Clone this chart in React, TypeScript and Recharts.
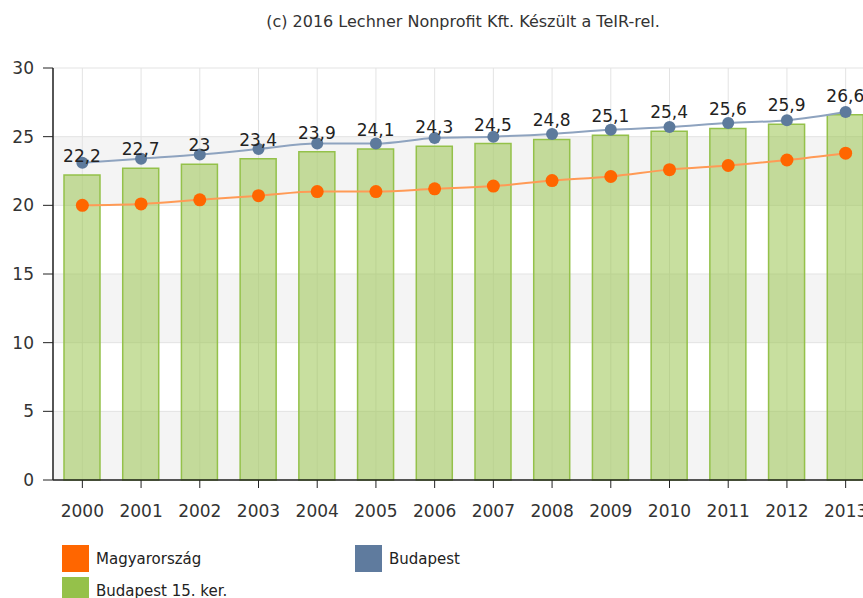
import { BarChart, Bar, Line, XAxis, YAxis, CartesianGrid, LabelList, ComposedChart } from "recharts";

// years on the x axis
const years = ["2000", "2001", "2002", "2003", "2004", "2005", "2006", "2007", "2008", "2009", "2010", "2011", "2012", "2013"];
// Magyarország (orange line)
const magyarorszag = [20.0, 20.1, 20.4, 20.7, 21.0, 21.0, 21.2, 21.4, 21.8, 22.1, 22.6, 22.9, 23.3, 23.8];
// Budapest (blue-grey line)
const budapest = [23.1, 23.4, 23.7, 24.1, 24.5, 24.5, 24.9, 25.0, 25.2, 25.5, 25.7, 26.0, 26.2, 26.8];
// Budapest 15. ker. (green bars)
const ker15 = [22.2, 22.7, 23, 23.4, 23.9, 24.1, 24.3, 24.5, 24.8, 25.1, 25.4, 25.6, 25.9, 26.6];
const yTicks = [0, 5, 10, 15, 20, 25, 30];

const legendItems = [
  { name: "Magyarország", color: "#ff6600" },
  { name: "Budapest", color: "#5f7b9e" },
  { name: "Budapest 15. ker.", color: "#95c14a" },
];

const chartData = years.map((year, i) => ({
  year,
  magyarorszag: magyarorszag[i],
  budapest: budapest[i],
  ker15: ker15[i],
}));

export default function App() {
  return (
    <div
      style={{
        position: "absolute",
        left: 0,
        top: 0,
        width: 863,
        height: 598,
        overflow: "hidden",
        background: "#fff",
        fontFamily: "'DejaVu Sans', Verdana, sans-serif",
      }}
    >
      {/* copyright line */}
      <div
        style={{
          position: "absolute",
          left: 0,
          top: 14,
          width: 926,
          textAlign: "center",
          fontSize: 16,
          lineHeight: "16px",
          color: "#333",
        }}
      >
        (c) 2016 Lechner Nonprofit Kft. Készült a TeIR-rel.
      </div>

      <div style={{ position: "absolute", left: 0, top: 0 }}>
        <ComposedChart
          width={930}
          height={598}
          data={chartData}
          margin={{ top: 68, right: 55, bottom: 78, left: 0 }}
        >
          <CartesianGrid stroke="#e3e3e3" horizontalFill={["#ffffff", "#f4f4f4"]} />
          <XAxis
            dataKey="year"
            height={40}
            tickSize={8}
            tickMargin={17}
            axisLine={{ stroke: "#222", strokeWidth: 1.5 }}
            tickLine={{ stroke: "#222" }}
            tick={{ fill: "#333", fontSize: 17 }}
            interval={0}
          />
          <YAxis
            domain={[0, 30]}
            ticks={yTicks}
            width={53}
            tickSize={10}
            tickMargin={9}
            axisLine={{ stroke: "#222", strokeWidth: 1.5 }}
            tickLine={{ stroke: "#222" }}
            tick={{ fill: "#333", fontSize: 17 }}
          />
          <Bar
            dataKey="ker15"
            barSize={36}
            fill="#9bc450"
            fillOpacity={0.55}
            stroke="#94c14a"
            strokeWidth={1.5}
            isAnimationActive={false}
          >
            <LabelList
              dataKey="ker15"
              position="top"
              offset={13}
              fill="#222"
              fontSize={17}
              formatter={(v: any) => String(v).replace(".", ",")}
            />
          </Bar>
          <Line
            type="monotone"
            dataKey="budapest"
            stroke="#8ea3bf"
            strokeWidth={2}
            dot={{ r: 6, fill: "#5d7a9c", stroke: "none" }}
            activeDot={false}
            isAnimationActive={false}
          />
          <Line
            type="monotone"
            dataKey="magyarorszag"
            stroke="#ff9a55"
            strokeWidth={2}
            dot={{ r: 6.5, fill: "#ff6600", stroke: "none" }}
            activeDot={false}
            isAnimationActive={false}
          />
        </ComposedChart>
      </div>

      {/* legend */}
      <div
        style={{
          position: "absolute",
          left: 62,
          top: 545,
          display: "grid",
          gridTemplateColumns: "293px 300px",
          rowGap: 5,
          fontSize: 15,
          color: "#222",
        }}
      >
        {legendItems.map((item) => (
          <div key={item.name} style={{ display: "flex", alignItems: "center", height: 27 }}>
            <span style={{ width: 27, height: 27, background: item.color, marginRight: 7 }} />
            <span>{item.name}</span>
          </div>
        ))}
      </div>
    </div>
  );
}
